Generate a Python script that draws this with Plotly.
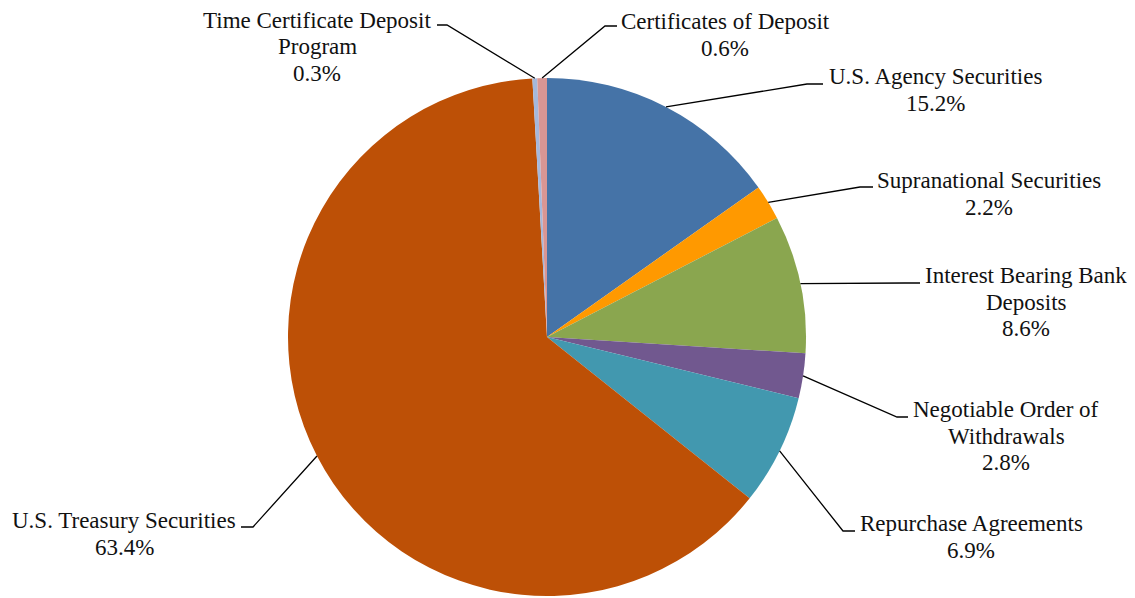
import math

import plotly.graph_objects as go

# Data
categories = ['U.S. Agency Securities', 'Supranational Securities', 'Interest Bearing Bank Deposits',
              'Negotiable Order of Withdrawals', 'Repurchase Agreements', 'U.S. Treasury Securities',
              'Time Certificate Deposit Program', 'Certificates of Deposit']
shares = [15.2, 2.2, 8.6, 2.8, 6.9, 63.4, 0.3, 0.6]
label_lines = [['U.S. Agency Securities'], ['Supranational Securities'], ['Interest Bearing Bank', 'Deposits'],
               ['Negotiable Order of', 'Withdrawals'], ['Repurchase Agreements'], ['U.S. Treasury Securities'],
               ['Time Certificate Deposit', 'Program'], ['Certificates of Deposit']]

colors = ['#4573A7', '#FF9900', '#8AA64F', '#71588F', '#4298AF', '#BD5006', '#A5B8DC', '#D99694']

# Canvas / pie geometry (pixels of the screenshot)
W, H = 1135, 598
OFF = 8  # page body margin
CX, CY, R = 547, 337, 259
LINE_H = 26.5

# Label layout: text block centre (x, y), leader elbow and leader end (pixels)
label_pos = [(935, 90), (989, 194), (1026, 302), (1006, 436), (971, 537), (124, 534), (317, 47), (725, 35)]
elbow_pos = [(807, 84), (860, 187), (905, 283), (897, 417), (843, 531), (253, 527), (447, 25), (605, 26)]
end_pos = [(823, 84), (873, 187), (920, 283), (908, 417), (855, 531), (241, 527), (437, 25), (617, 26)]


def px(x):
    return (x - OFF) / (W - OFF)


def py(y):
    return 1 - (y - OFF) / (H - OFF)


fig = go.Figure()
fig.add_trace(go.Pie(labels=categories, values=shares, sort=False, direction='clockwise', rotation=0,
                     marker=dict(colors=colors, line=dict(width=0)), textinfo='none', hoverinfo='label+percent',
                     domain=dict(x=[px(CX - R), px(CX + R)], y=[py(CY + R), py(CY - R)]), showlegend=False))

# Leader lines + labels
total = sum(shares)
cum = 0
for i, v in enumerate(shares):
    mid = (cum + v / 2) / total * 2 * math.pi  # clockwise from 12 o'clock
    cum += v
    sx, sy = CX + R * math.sin(mid), CY - R * math.cos(mid)
    (ex, ey), (tx, ty) = elbow_pos[i], end_pos[i]
    fig.add_shape(type='path', xref='paper', yref='paper',
                  path=f'M {px(sx)},{py(sy)} L {px(ex)},{py(ey)} L {px(tx)},{py(ty)}',
                  line=dict(color='black', width=1.3))

    lines = label_lines[i] + [f'{v:.1f}%']
    lx, ly = label_pos[i]
    for j, line in enumerate(lines):
        yy = ly + (j - (len(lines) - 1) / 2) * LINE_H
        fig.add_annotation(x=px(lx), y=py(yy), xref='paper', yref='paper', xanchor='center', yanchor='middle',
                           text=line, showarrow=False,
                           font=dict(family='Liberation Serif', size=23, color='#111111'))

fig.update_layout(width=W - OFF, height=H - OFF, margin=dict(l=0, r=0, t=0, b=0), paper_bgcolor='white',
                  plot_bgcolor='white')

fig.write_html("out.html")
